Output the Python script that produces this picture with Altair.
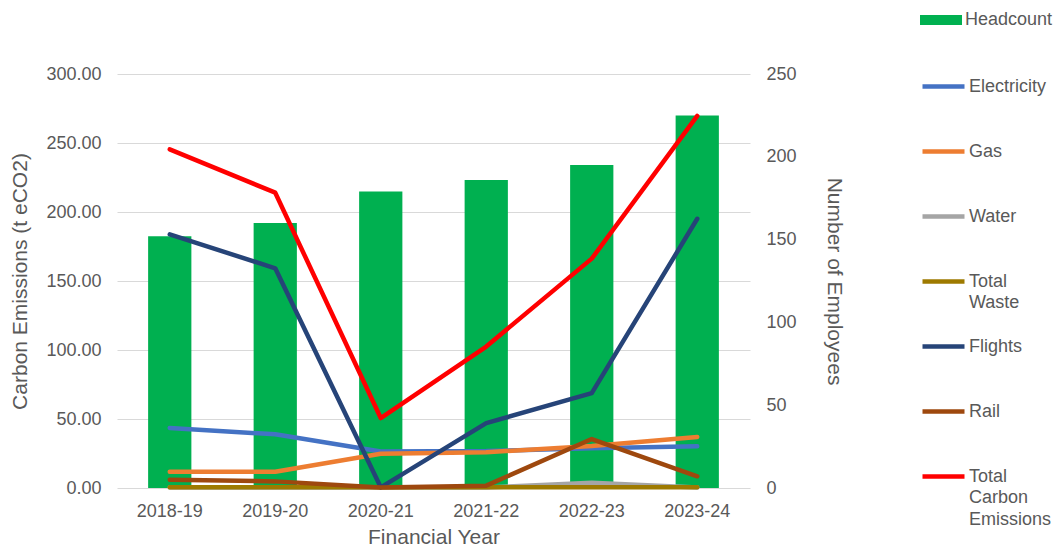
import altair as alt
import pandas as pd

years = ["2018-19", "2019-20", "2020-21", "2021-22", "2022-23", "2023-24"]
headcount = [152, 160, 179, 186, 195, 225]
electricity = [43.5, 38.9, 26.5, 26.8, 28.8, 30.2]
gas = [11.8, 11.8, 24.8, 25.9, 30.5, 37.0]
water = [0.3, 0.3, 0.3, 0.3, 3.8, 0.3]
total_waste = [0.5, 0.5, 0.5, 0.5, 0.5, 0.5]
flights = [183.8, 159.2, 0.5, 47.0, 68.8, 195.1]
rail = [6.0, 4.8, 0.3, 1.7, 35.5, 8.5]
total_emissions = [245.4, 214.0, 50.7, 102.5, 166.2, 269.6]

series_names = ["Electricity", "Gas", "Water", "Total Waste", "Flights", "Rail",
                "Total Carbon Emissions"]
series_values = [electricity, gas, water, total_waste, flights, rail, total_emissions]
series_colors = ["#4472C4", "#ED7D31", "#A5A5A5", "#9E7A00", "#264478", "#9E480E", "#FF0000"]
bar_name = "Headcount"
bar_color = "#00B050"

left_ticks = [0, 50, 100, 150, 200, 250, 300]
right_ticks = [0, 50, 100, 150, 200, 250]

bar_df = pd.DataFrame({"Financial Year": years, "Headcount": headcount,
                       "Series": [bar_name] * len(years)})
rows = []
for name, vals in zip(series_names, series_values):
    for yr, v in zip(years, vals):
        rows.append({"Financial Year": yr, "Series": name, "Value": v,
                     "k": series_names.index(name)})
line_df = pd.DataFrame(rows)

FONT = "Liberation Sans"
TXT = "#595959"
LEG_FONT = 18

x_enc = alt.X(
    "Financial Year:N", sort=years,
    scale=alt.Scale(paddingInner=0.59, paddingOuter=0.295),
    axis=alt.Axis(title="Financial Year", labelAngle=0, domain=False, ticks=False,
                  grid=False, labelPadding=14, titlePadding=6),
)

bar_legend = alt.Legend(
    title=None, orient="none", legendX=803, legendY=-65,
    symbolType="M-1,-0.24H1V0.24H-1Z", symbolSize=1764, symbolStrokeWidth=0,
    labelFontSize=LEG_FONT, labelFont=FONT, labelColor=TXT, labelOffset=3,
    clipHeight=22, rowPadding=0, padding=0, labelBaseline="middle",
)

bars = alt.Chart(bar_df).mark_bar().encode(
    x=x_enc,
    y=alt.Y("Headcount:Q", scale=alt.Scale(domain=[0, 250], nice=False),
            axis=alt.Axis(orient="right", title="Number of Employees", values=right_ticks,
                          grid=False, domain=False, ticks=False, labelPadding=16,
                          titlePadding=27, titleAngle=90)),
    fill=alt.Fill("Series:N", scale=alt.Scale(domain=[bar_name], range=[bar_color]),
                  legend=bar_legend),
)

label_expr = ("datum.label == 'Total Waste' || datum.label == 'Total Carbon Emissions'"
              " ? split(datum.label, ' ') : datum.label")

line_legend = alt.Legend(
    title=None, orient="none", legendX=803, legendY=-20,
    symbolType="stroke", symbolSize=1764, symbolStrokeWidth=4.5,
    labelFontSize=LEG_FONT, labelFont=FONT, labelColor=TXT, labelOffset=2,
    clipHeight=65, rowPadding=0, padding=0, labelBaseline="middle",
    labelExpr=label_expr,
)

lines = alt.Chart(line_df).mark_line(strokeWidth=4.5, strokeCap="round",
                                     strokeJoin="round").encode(
    x=alt.X("Financial Year:N", sort=years),
    y=alt.Y("Value:Q", scale=alt.Scale(domain=[0, 300], nice=False),
            axis=alt.Axis(orient="left", title="Carbon Emissions (t eCO2)", values=left_ticks,
                          format=".2f", grid=True, domain=False, ticks=False,
                          labelPadding=16, titlePadding=15)),
    color=alt.Color("Series:N", scale=alt.Scale(domain=series_names, range=series_colors),
                    legend=line_legend),
    order=alt.Order("k:Q"),
)

chart = alt.layer(bars, lines).resolve_scale(y="independent").properties(
    width=633, height=414,
    autosize=alt.AutoSizeParams(type="none"),
    padding={"left": 109, "top": 66, "right": 304, "bottom": 60},
).configure(
    style={"guide-label": {"lineHeight": 21.5}},
).configure_axis(
    labelFont=FONT, titleFont=FONT, labelColor=TXT, titleColor=TXT,
    labelFontSize=18, titleFontSize=21, titleFontWeight="normal",
    gridColor="#D9D9D9", gridWidth=1,
).configure_view(stroke=None)

chart.save("out.html", embed_options={"renderer": "svg", "actions": False})
